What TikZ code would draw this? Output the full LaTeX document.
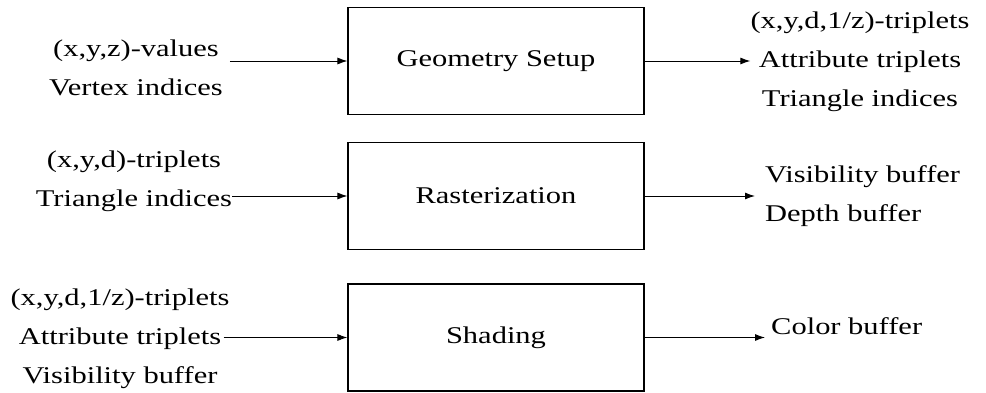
\documentclass[tikz,border=0pt]{standalone}
\usepackage{fontspec}
\setmainfont{Liberation Serif}[FakeStretch=1.27]
\usetikzlibrary{arrows.meta}
\tikzset{stage/.style={draw,line width=1.2pt,minimum width=296pt,minimum height=107pt}}
\tikzset{io/.style={align=center,inner sep=0pt}}
\tikzset{flow/.style={-{Latex[length=10pt,width=7pt]},line width=0.9pt}}

\begin{document}
\begin{tikzpicture}[node distance=5em,font=\fontsize{24}{39}\selectfont]
          \useasboundingbox (0,0) rectangle (986pt,-393pt);
          % pipeline stages
          \node[stage] (geo) at (496pt,-61pt) {Geometry Setup};
          \node[stage] (ras) [below of=geo,node distance=135pt] {Rasterization};
          \node[stage] (sha) [below of=ras,node distance=141.5pt] {Shading};
          % inputs
          \node[io] (in1) [left of=geo,node distance=360pt,yshift=-7pt] {(x,y,z)-values\\Vertex indices};
          \node[io] (in2) [left of=ras,node distance=362pt,yshift=15pt] {(x,y,d)-triplets\\Triangle indices};
          \node[io] (in3) [left of=sha,node distance=376pt,yshift=-1pt] {(x,y,d,1/z)-triplets\\Attribute triplets\\Visibility buffer};
          % outputs
          \node[io] (out1) [right of=geo,node distance=364pt,yshift=-1pt] {(x,y,d,1/z)-triplets\\Attribute triplets\\Triangle indices};
          \node[io,align=left] (out2) [right of=ras,node distance=269pt,anchor=west] {Visibility buffer\\Depth buffer};
          \node[io] (out3) [right of=sha,node distance=275pt,anchor=west,yshift=11pt] {Color buffer};
          \draw[flow] ([xshift=7pt]in1.east |- geo) -- (geo);
          \draw[flow] (in2.east |- ras) -- (ras);
          \draw[flow] ([xshift=-6pt]in3.east |- sha) -- (sha);
          \draw[flow] (geo.east) -- (geo.east -| out1.west);
          \draw[flow] (ras.east) -- ([xshift=-10pt]ras.east -| out2.west);
          \draw[flow] (sha.east) -- ([xshift=-6pt]sha.east -| out3.west);
        \end{tikzpicture}
\end{document}
